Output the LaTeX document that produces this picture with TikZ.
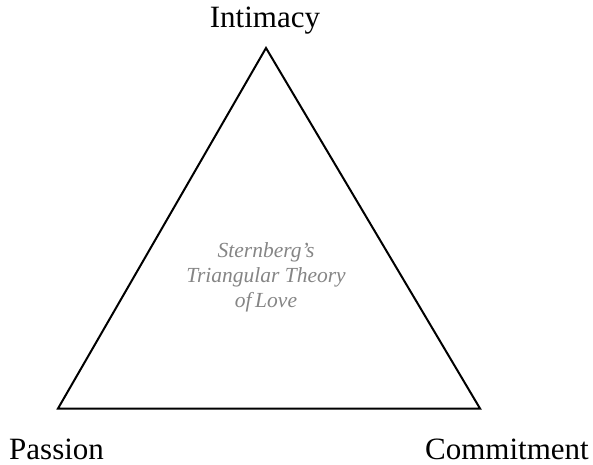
\documentclass[tikz,border=0pt]{standalone}
\usepackage{fontspec}
\setmainfont{Liberation Serif}
\begin{document}
\begin{tikzpicture}[x=1pt,y=-1pt,
  corner/.style={inner sep=0pt, text depth=0pt, anchor=base, font=\fontsize{31}{36}\selectfont},
  title/.style={inner sep=0pt, align=center, text=black!48,
    font=\fontsize{21.5}{25}\selectfont\itshape}]
  \useasboundingbox (0,0) rectangle (593,464);
  % vertices of the triangle
  \coordinate (I) at (266,48);
  \coordinate (P) at (58,408.5);
  \coordinate (C) at (480,408.5);
  \draw[line width=2pt, line join=miter] (I) -- (P) -- (C) -- cycle;
  % vertex labels
  \node[corner] (li) at (265,27) {Intimacy};
  \node[corner, anchor=base west] (lp) at (9,459.5) {Passion};
  \node[corner, anchor=base east] (lc) at (589,459.5) {Commitment};
  % centre caption (base anchor sits on the last line)
  \node[title, anchor=base] (t) at (266,307) {Sternberg's\\Triangular Theory\\of\,Love};
\end{tikzpicture}
\end{document}
